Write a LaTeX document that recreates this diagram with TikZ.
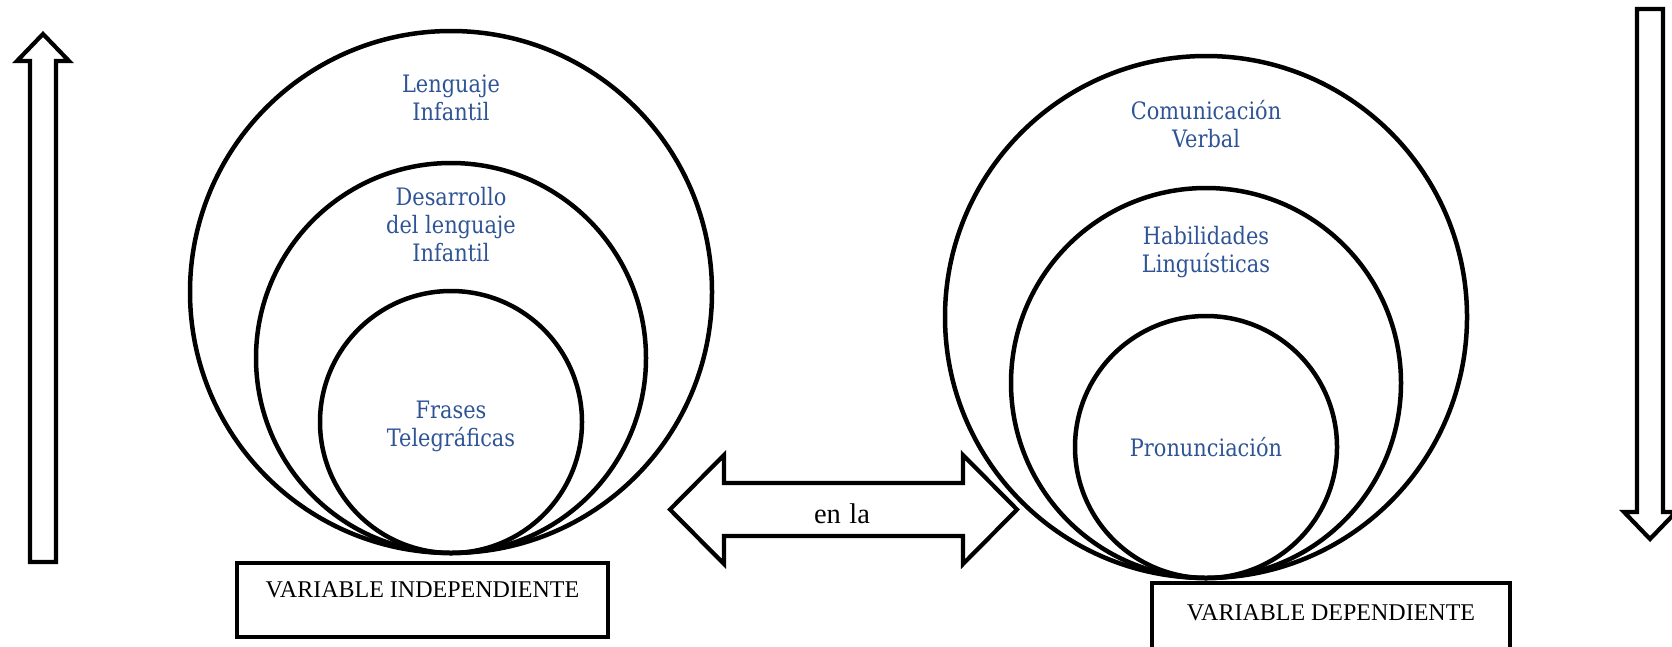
\documentclass[tikz,border=0pt]{standalone}
\usepackage{fontspec}
\setmainfont{Liberation Serif}
\newfontfamily\bluefont[FakeStretch=0.87]{DejaVu Serif}
\definecolor{lblue}{RGB}{47,84,150}
\begin{document}
\begin{tikzpicture}[x=1pt,y=-1pt,line width=4.5pt,
  ring/.style={draw,circle,inner sep=0pt,line width=4.5pt},
  lbl/.style={text=lblue,font=\bluefont\fontsize{24}{28}\selectfont,align=center,inner sep=0pt},
  varbox/.style={draw,rectangle,inner sep=0pt,line width=4.5pt},
  vartext/.style={font=\fontsize{24}{28}\selectfont,inner sep=0pt,anchor=base},
  bigarrow/.style={draw,line width=4.2pt,line join=miter}]
\useasboundingbox (0,0) rectangle (1672,646);
% left rings
\node[ring,minimum size=522pt] (L1) at (451,292) {};
\node[ring,minimum size=390pt] (L2) at (451,358) {};
\node[ring,minimum size=262pt] (L3) at (451,422) {};
% right rings
\node[ring,minimum size=522pt] (R1) at (1206,317) {};
\node[ring,minimum size=390pt] (R2) at (1206,383) {};
\node[ring,minimum size=262pt] (R3) at (1206,447) {};
% labels
\node[lbl] (tL1) at (451,98) {Lenguaje\\Infantil};
\node[lbl] (tL2) at (451,225) {Desarrollo\\del lenguaje\\Infantil};
\node[lbl] (tL3) at (451,426) {Frases\\Telegráficas};
\node[lbl] (tR1) at (1206,124) {Comunicación\\Verbal};
\node[lbl] (tR2) at (1206,252) {Habilidades\\Linguísticas};
\node[lbl,anchor=base] (tR3) at (1206,456) {Pronunciación};
% variable boxes
\node[varbox,minimum width=371pt,minimum height=74pt] (VI) at (422.5,600) {};
\node[vartext] (VIt) at (422.5,597) {VARIABLE INDEPENDIENTE};
\node[varbox,minimum width=358pt,minimum height=80pt] (VD) at (1331,623) {};
\node[vartext] (VDt) at (1331,620) {VARIABLE DEPENDIENTE};
% double arrow
\draw[bigarrow] (670,509.5) -- (724,455) -- (724,483) -- (963,483) -- (963,455)
  -- (1017,509.5) -- (963,564) -- (963,536) -- (724,536) -- (724,564) -- cycle;
\node[font=\fontsize{28.5}{30}\selectfont,inner sep=0pt,anchor=base] (enla) at (842,523) {en\hspace{0.3em}la};
% up arrow
\draw[bigarrow] (30,562) -- (30,61) -- (17,61) -- (43,34) -- (69,61) -- (56,61) -- (56,562) -- cycle;
% down arrow
\draw[bigarrow] (1637,9) -- (1663,9) -- (1663,512) -- (1676,512) -- (1650,539)
  -- (1624,512) -- (1637,512) -- cycle;
\end{tikzpicture}
\end{document}
